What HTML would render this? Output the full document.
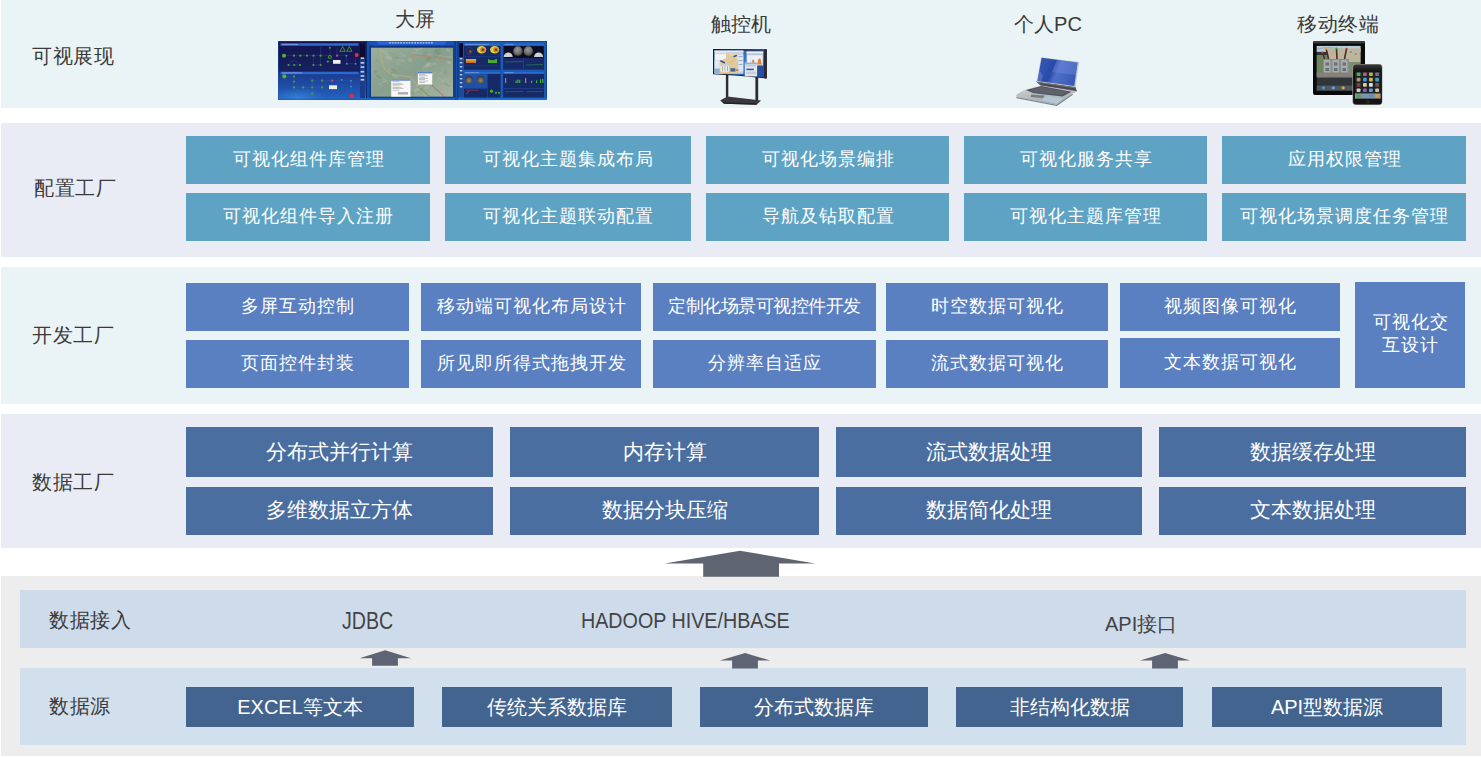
<!DOCTYPE html>
<html><head><meta charset="utf-8">
<style>
*{margin:0;padding:0;box-sizing:border-box}
html,body{width:1481px;height:758px;overflow:hidden;background:#fff;font-family:"Liberation Sans",sans-serif}
.a{position:absolute}
.sec{position:absolute;left:1px;right:0}
.s1{top:0;height:108px;background:#EAF3F5}
.s2{top:123px;height:134px;background:#E9ECF4}
.s3{top:267px;height:137px;background:#EAF3F5}
.s4{top:414px;height:134px;background:#E9ECF4}
.s5{top:576px;height:180px;background:#EDEDED}
.lbl{position:absolute;font-size:20px;color:#3a3a3a;white-space:nowrap;line-height:20px}
.cl{letter-spacing:0.5px}
.b{position:absolute;color:#fff;text-align:center;white-space:nowrap}
.c2{background:#5FA3C4;font-size:18px;letter-spacing:1px;text-indent:1px;height:48px;line-height:46px}
.c3{background:#5A80C1;font-size:18px;letter-spacing:1px;text-indent:1px;height:48px;line-height:46px}
.c4{background:#4A6E9F;font-size:21px;height:49px;line-height:49px}
.c5{background:#42648E;font-size:20px;height:40px;line-height:40px;top:687px}
.dev{position:absolute;font-size:20px;color:#3a3a3a;white-space:nowrap;line-height:20px;text-align:center;width:200px}
</style></head><body>
<div class="sec s1"></div>
<div class="sec s2"></div>
<div class="sec s3"></div>
<div class="sec s4"></div>
<div class="sec s5"></div>

<!-- left labels -->
<div class="lbl cl" style="left:32px;top:46px">可视展现</div>
<div class="lbl cl" style="left:34px;top:178px">配置工厂</div>
<div class="lbl cl" style="left:32px;top:325px">开发工厂</div>
<div class="lbl cl" style="left:32px;top:472px">数据工厂</div>

<!-- device labels -->
<div class="dev" style="left:315px;top:9px">大屏</div>
<div class="dev" style="left:641px;top:14px">触控机</div>
<div class="dev" style="left:948px;top:14px">个人PC</div>
<div class="dev" style="left:1238px;top:14px;letter-spacing:0.6px;text-indent:0.6px">移动终端</div>

<!-- S2 buttons -->
<div class="b c2" style="left:186px;top:136px;width:244px">可视化组件库管理</div>
<div class="b c2" style="left:445px;top:136px;width:246px">可视化主题集成布局</div>
<div class="b c2" style="left:706px;top:136px;width:243px">可视化场景编排</div>
<div class="b c2" style="left:964px;top:136px;width:243px">可视化服务共享</div>
<div class="b c2" style="left:1222px;top:136px;width:244px">应用权限管理</div>
<div class="b c2" style="left:186px;top:193px;width:244px">可视化组件导入注册</div>
<div class="b c2" style="left:445px;top:193px;width:246px">可视化主题联动配置</div>
<div class="b c2" style="left:706px;top:193px;width:243px">导航及钻取配置</div>
<div class="b c2" style="left:964px;top:193px;width:243px">可视化主题库管理</div>
<div class="b c2" style="left:1222px;top:193px;width:244px">可视化场景调度任务管理</div>

<!-- S3 buttons -->
<div class="b c3" style="left:186px;top:283px;width:223px">多屏互动控制</div>
<div class="b c3" style="left:421px;top:283px;width:220px">移动端可视化布局设计</div>
<div class="b c3" style="left:653px;top:283px;width:223px;letter-spacing:-0.5px;text-indent:-0.5px">定制化场景可视控件开发</div>
<div class="b c3" style="left:886px;top:283px;width:222px">时空数据可视化</div>
<div class="b c3" style="left:1120px;top:283px;width:220px">视频图像可视化</div>
<div class="b c3" style="left:186px;top:340px;width:223px">页面控件封装</div>
<div class="b c3" style="left:421px;top:340px;width:220px">所见即所得式拖拽开发</div>
<div class="b c3" style="left:653px;top:340px;width:223px">分辨率自适应</div>
<div class="b c3" style="left:886px;top:340px;width:222px">流式数据可视化</div>
<div class="b c3" style="left:1120px;top:338px;width:220px;height:50px;line-height:48px">文本数据可视化</div>
<div class="b c3" style="left:1355px;top:282px;width:110px;height:106px;line-height:23px;padding-top:29px;white-space:normal">可视化交<br>互设计</div>

<!-- S4 buttons -->
<div class="b c4" style="left:186px;top:427px;width:307px;height:50px;line-height:50px">分布式并行计算</div>
<div class="b c4" style="left:510px;top:427px;width:309px;height:50px;line-height:50px">内存计算</div>
<div class="b c4" style="left:836px;top:427px;width:306px;height:50px;line-height:50px">流式数据处理</div>
<div class="b c4" style="left:1159px;top:427px;width:307px;height:50px;line-height:50px">数据缓存处理</div>
<div class="b c4" style="left:186px;top:487px;width:307px;height:48px;line-height:46px">多维数据立方体</div>
<div class="b c4" style="left:510px;top:487px;width:309px;height:48px;line-height:46px">数据分块压缩</div>
<div class="b c4" style="left:836px;top:487px;width:306px;height:48px;line-height:46px">数据简化处理</div>
<div class="b c4" style="left:1159px;top:487px;width:307px;height:48px;line-height:46px">文本数据处理</div>

<!-- big arrow -->
<svg class="a" style="left:0;top:540px" width="1481" height="40" viewBox="0 540 1481 40">
<path d="M740 550.7 L815.3 563.5 L779 563.5 L779 576.7 L703.2 576.7 L703.2 563.5 L664.6 563.5 Z" fill="#5F6570"/>
</svg>

<!-- S5 -->
<div class="a" style="left:20px;top:590px;width:1446px;height:58px;background:#CEDBEB"></div>
<div class="a" style="left:20px;top:668px;width:1446px;height:77px;background:#D2DFEC"></div>
<div class="lbl cl" style="left:49px;top:610px">数据接入</div>
<div class="lbl cl" style="left:49px;top:695.5px">数据源</div>
<div class="lbl" style="left:342px;top:610px;font-size:21px;color:#444;transform:scale(0.935,1.13);transform-origin:0 0">JDBC</div>
<div class="lbl" style="left:581px;top:610px;color:#444;transform:scale(0.985,1.07);transform-origin:0 0">HADOOP HIVE/HBASE</div>
<div class="lbl" style="left:1105px;top:614px;color:#444">API接口</div>

<svg class="a" style="left:0;top:640px" width="1481" height="40" viewBox="0 640 1481 40">
<g fill="#5E6473">
<path d="M385.2 650.2 L411 658.2 L397.9 658.2 L397.9 665.8 L372.1 665.8 L372.1 658.2 L359.5 658.2 Z"/>
<path d="M745.1 653 L770.3 660.6 L757.9 660.6 L757.9 668.6 L732.1 668.6 L732.1 660.6 L719.9 660.6 Z"/>
<path d="M1165.1 653 L1190.3 660.6 L1177.9 660.6 L1177.9 668.6 L1152.1 668.6 L1152.1 660.6 L1140 660.6 Z"/>
</g>
</svg>

<div class="b c5" style="left:186px;width:228px">EXCEL等文本</div>
<div class="b c5" style="left:442px;width:230px">传统关系数据库</div>
<div class="b c5" style="left:700px;width:228px">分布式数据库</div>
<div class="b c5" style="left:956px;width:227px">非结构化数据</div>
<div class="b c5" style="left:1212px;width:230px">API型数据源</div>

<!-- IMAGES -->
<svg class="a" style="left:0;top:0" width="1481" height="108" viewBox="0 0 1481 108">
<defs>
<linearGradient id="gL" x1="0" y1="0" x2="0" y2="1"><stop offset="0" stop-color="#141450"/><stop offset="0.5" stop-color="#17205E"/><stop offset="0.55" stop-color="#1B3A8E"/><stop offset="1" stop-color="#2464C0"/></linearGradient>
<linearGradient id="gMap" x1="0" y1="0" x2="1" y2="1"><stop offset="0" stop-color="#9AAE9C"/><stop offset="0.5" stop-color="#879F8C"/><stop offset="1" stop-color="#A6B4A0"/></linearGradient>
<radialGradient id="gSph" cx="0.45" cy="0.35" r="0.6"><stop offset="0" stop-color="#9A9A9A"/><stop offset="0.7" stop-color="#6A6A68"/><stop offset="1" stop-color="#3A3A3A"/></radialGradient>
<radialGradient id="gSph2" cx="0.5" cy="0.6" r="0.6"><stop offset="0" stop-color="#9A8A60"/><stop offset="0.7" stop-color="#5A5040"/><stop offset="1" stop-color="#2A2A30"/></radialGradient>
<linearGradient id="gDesk" x1="0" y1="0" x2="1" y2="1"><stop offset="0" stop-color="#1E4A98"/><stop offset="0.5" stop-color="#3C7AC8"/><stop offset="1" stop-color="#1E4A98"/></linearGradient>
<linearGradient id="gLap" x1="0" y1="0" x2="1" y2="0.3"><stop offset="0" stop-color="#3B5ABA"/><stop offset="0.45" stop-color="#2A4AAA"/><stop offset="0.6" stop-color="#5070C8"/><stop offset="1" stop-color="#3A5CB8"/></linearGradient>
<linearGradient id="gBase" x1="0" y1="0" x2="0.3" y2="1"><stop offset="0" stop-color="#D4D6D8"/><stop offset="1" stop-color="#A8ACB0"/></linearGradient>
<linearGradient id="gIpadSky" x1="0" y1="0" x2="0" y2="1"><stop offset="0" stop-color="#A8C0CC"/><stop offset="1" stop-color="#C8CCC0"/></linearGradient>
<linearGradient id="gPhone" x1="0" y1="0" x2="0" y2="1"><stop offset="0" stop-color="#3A3A3A"/><stop offset="0.2" stop-color="#0A0A0A"/><stop offset="1" stop-color="#151515"/></linearGradient>
<radialGradient id="gGlow"><stop offset="0" stop-color="#40A0F0" stop-opacity="0.45"/><stop offset="1" stop-color="#40A0F0" stop-opacity="0"/></radialGradient>
<filter id="bl" x="-5%" y="-5%" width="110%" height="110%"><feGaussianBlur stdDeviation="0.5"/></filter>
<filter id="bl2" x="-5%" y="-5%" width="110%" height="110%"><feGaussianBlur stdDeviation="0.8"/></filter>
<clipPath id="cpL"><rect x="278.5" y="41.5" width="87.5" height="58"/></clipPath>
</defs>
<g>
<rect x="278.0" y="41.0" width="269.0" height="59.0" fill="#1552A8" />
<rect x="278.5" y="41.5" width="87.5" height="58.0" fill="url(#gL)" />
<rect x="280.5" y="43.2" width="78.0" height="2.6" fill="#2A6ACC" />
<rect x="282.0" y="43.9" width="16.0" height="1.1" fill="#9AB8E8" opacity="0.6"/>
<rect x="280.5" y="71.8" width="78.0" height="2.4" fill="#2A6ACC" />
<rect x="282.0" y="72.4" width="20.0" height="1.1" fill="#9AB8E8" opacity="0.6"/>
<rect x="360.0" y="44.0" width="5.0" height="54.0" fill="#1B3C8C" />
<rect x="360.0" y="44.0" width="5.0" height="15.0" fill="#0C0C34" />
<rect x="360.6" y="57.3" width="3.6" height="1.7" fill="#B8C8E4" />
<rect x="360.6" y="62.0" width="3.6" height="1.7" fill="#B8C8E4" />
<rect x="360.6" y="66.2" width="3.6" height="1.7" fill="#B8C8E4" />
<rect x="360.6" y="70.9" width="3.6" height="1.7" fill="#B8C8E4" />
<rect x="360.6" y="75.1" width="3.6" height="1.7" fill="#B8C8E4" />
<rect x="360.6" y="78.9" width="3.6" height="1.7" fill="#B8C8E4" />
<ellipse cx="298" cy="97" rx="26" ry="9" fill="url(#gGlow)" clip-path="url(#cpL)"/>
<line x1="284.0" y1="55.7" x2="328.0" y2="55.7" stroke="#3F68B8" stroke-width="0.5" opacity="0.55"/>
<line x1="288.5" y1="65.0" x2="300.1" y2="65.0" stroke="#3F68B8" stroke-width="0.5" opacity="0.55"/>
<line x1="313.4" y1="65.0" x2="320.6" y2="65.0" stroke="#3F68B8" stroke-width="0.5" opacity="0.55"/>
<line x1="337.1" y1="55.7" x2="346.4" y2="55.7" stroke="#3F68B8" stroke-width="0.5" opacity="0.55"/>
<line x1="346.8" y1="63.8" x2="355.7" y2="63.8" stroke="#3F68B8" stroke-width="0.5" opacity="0.55"/>
<line x1="327.8" y1="61.6" x2="333.0" y2="61.6" stroke="#3F68B8" stroke-width="0.5" opacity="0.55"/>
<line x1="313.4" y1="55.7" x2="313.4" y2="65.0" stroke="#3F68B8" stroke-width="0.5" opacity="0.55"/>
<line x1="320.6" y1="47.0" x2="320.6" y2="65.0" stroke="#3F68B8" stroke-width="0.5" opacity="0.55"/>
<line x1="329.9" y1="47.7" x2="329.9" y2="57.0" stroke="#3F68B8" stroke-width="0.5" opacity="0.55"/>
<line x1="337.1" y1="47.0" x2="337.1" y2="55.7" stroke="#3F68B8" stroke-width="0.5" opacity="0.55"/>
<line x1="346.6" y1="55.7" x2="346.6" y2="63.8" stroke="#3F68B8" stroke-width="0.5" opacity="0.55"/>
<line x1="355.7" y1="54.9" x2="355.7" y2="63.8" stroke="#3F68B8" stroke-width="0.5" opacity="0.55"/>
<line x1="284.3" y1="76.4" x2="294.0" y2="76.4" stroke="#3F68B8" stroke-width="0.5" opacity="0.55"/>
<line x1="294.0" y1="76.4" x2="294.0" y2="87.4" stroke="#3F68B8" stroke-width="0.5" opacity="0.55"/>
<line x1="294.0" y1="87.4" x2="322.1" y2="87.4" stroke="#3F68B8" stroke-width="0.5" opacity="0.55"/>
<line x1="312.2" y1="80.7" x2="351.0" y2="80.7" stroke="#3F68B8" stroke-width="0.5" opacity="0.55"/>
<line x1="312.2" y1="80.7" x2="312.2" y2="93.7" stroke="#3F68B8" stroke-width="0.5" opacity="0.55"/>
<line x1="351.0" y1="80.7" x2="351.0" y2="95.9" stroke="#3F68B8" stroke-width="0.5" opacity="0.55"/>
<path d="M288.5 65 Q294.3 56 300.1 65" fill="none" stroke="#3F68B8" stroke-width="0.5" opacity="0.55"/>
<circle cx="284.0" cy="55.7" r="2.0" fill="#5AB038" />
<circle cx="294.0" cy="55.7" r="1.1" fill="#4E9E32" />
<circle cx="300.3" cy="55.7" r="1.1" fill="#4E9E32" />
<circle cx="306.9" cy="55.7" r="1.1" fill="#4E9E32" />
<circle cx="313.4" cy="55.7" r="1.1" fill="#4E9E32" />
<circle cx="320.6" cy="55.7" r="1.1" fill="#4E9E32" />
<circle cx="288.5" cy="65.0" r="1.1" fill="#4E9E32" />
<circle cx="294.3" cy="65.0" r="1.1" fill="#4E9E32" />
<circle cx="300.1" cy="65.0" r="1.1" fill="#4E9E32" />
<circle cx="313.4" cy="65.0" r="1.1" fill="#4E9E32" />
<circle cx="320.6" cy="65.0" r="1.1" fill="#4E9E32" />
<circle cx="329.9" cy="57.0" r="2.1" fill="#3A9A28" />
<circle cx="329.9" cy="57.0" r="1.1" fill="#1A3A1A" />
<circle cx="329.9" cy="47.7" r="1.0" fill="#4E9E32" />
<circle cx="327.8" cy="61.6" r="1.1" fill="#4E9E32" />
<path d="M342.6 46.5 L345.20000000000005 51.3 L340.0 51.3 Z" fill="none" stroke="#48A030" stroke-width="0.9"/>
<path d="M349.3 46.5 L351.90000000000003 51.3 L346.7 51.3 Z" fill="none" stroke="#48A030" stroke-width="0.9"/>
<circle cx="337.1" cy="55.7" r="1.1" fill="#D040A8" />
<rect x="333.0" y="60.0" width="7.5" height="3.8" fill="#EEEEEE" />
<circle cx="356.7" cy="54.9" r="2.0" fill="#D8304A" />
<circle cx="346.4" cy="55.7" r="0.9" fill="#3A98D8" />
<circle cx="346.8" cy="63.8" r="0.9" fill="#3A98D8" />
<circle cx="355.7" cy="63.8" r="0.9" fill="#3A98D8" />
<circle cx="284.3" cy="76.4" r="2.1" fill="#5AB038" />
<circle cx="294.0" cy="76.4" r="1.1" fill="#4E9E32" />
<circle cx="294.0" cy="81.5" r="1.1" fill="#4E9E32" />
<circle cx="294.0" cy="87.4" r="1.1" fill="#4E9E32" />
<circle cx="303.3" cy="87.4" r="1.1" fill="#4E9E32" />
<circle cx="312.2" cy="80.7" r="1.1" fill="#4E9E32" />
<circle cx="312.2" cy="87.4" r="1.1" fill="#4E9E32" />
<circle cx="312.2" cy="93.7" r="1.1" fill="#4E9E32" />
<circle cx="322.1" cy="80.7" r="1.1" fill="#4E9E32" />
<circle cx="322.1" cy="87.4" r="1.1" fill="#4E9E32" />
<circle cx="332.0" cy="80.7" r="1.1" fill="#D040A8" />
<circle cx="341.7" cy="79.8" r="0.9" fill="#3A98D8" />
<circle cx="351.0" cy="80.7" r="0.9" fill="#3A98D8" />
<circle cx="351.0" cy="86.6" r="0.9" fill="#3A98D8" />
<rect x="329.0" y="85.3" width="8.0" height="3.8" fill="#EEEEEE" />
<circle cx="351.4" cy="95.9" r="2.1" fill="#D8304A" />
<rect x="366.0" y="41.0" width="89.5" height="59.0" fill="#0C2A70" />
<rect x="367.0" y="41.5" width="87.5" height="58.0" fill="#1550A8" />
<rect x="369.5" y="45.6" width="84.0" height="52.4" fill="#0F3480" />
<path d="M368 41.2 L455 41.2 L450 45.6 L373 45.6 Z" fill="#1A50C0" />
<path d="M376 41.2 L447 41.2 L444 44.4 L379 44.4 Z" fill="#2A64D8" />
<rect x="389.0" y="42.1" width="1.8" height="1.4" fill="#C8D8F8" opacity="0.8"/>
<rect x="391.8" y="42.1" width="1.8" height="1.4" fill="#C8D8F8" opacity="0.8"/>
<rect x="394.6" y="42.1" width="1.8" height="1.4" fill="#C8D8F8" opacity="0.8"/>
<rect x="397.4" y="42.1" width="1.8" height="1.4" fill="#C8D8F8" opacity="0.8"/>
<rect x="400.2" y="42.1" width="1.8" height="1.4" fill="#C8D8F8" opacity="0.8"/>
<rect x="403.0" y="42.1" width="1.8" height="1.4" fill="#C8D8F8" opacity="0.8"/>
<rect x="405.8" y="42.1" width="1.8" height="1.4" fill="#C8D8F8" opacity="0.8"/>
<rect x="408.6" y="42.1" width="1.8" height="1.4" fill="#C8D8F8" opacity="0.8"/>
<rect x="411.4" y="42.1" width="1.8" height="1.4" fill="#C8D8F8" opacity="0.8"/>
<rect x="414.2" y="42.1" width="1.8" height="1.4" fill="#C8D8F8" opacity="0.8"/>
<rect x="417.0" y="42.1" width="1.8" height="1.4" fill="#C8D8F8" opacity="0.8"/>
<rect x="419.8" y="42.1" width="1.8" height="1.4" fill="#C8D8F8" opacity="0.8"/>
<rect x="422.6" y="42.1" width="1.8" height="1.4" fill="#C8D8F8" opacity="0.8"/>
<rect x="425.4" y="42.1" width="1.8" height="1.4" fill="#C8D8F8" opacity="0.8"/>
<rect x="428.2" y="42.1" width="1.8" height="1.4" fill="#C8D8F8" opacity="0.8"/>
<rect x="431.0" y="42.1" width="1.8" height="1.4" fill="#C8D8F8" opacity="0.8"/>
<rect x="371.0" y="47.7" width="82.0" height="49.0" fill="url(#gMap)" />
<ellipse cx="391.9" cy="73.6" rx="2.3" ry="1.4" fill="#6E8872" opacity="0.35" transform="rotate(-35 391.9 73.6)"/>
<ellipse cx="420.9" cy="89.9" rx="2.6" ry="1.3" fill="#7A927C" opacity="0.35" transform="rotate(35 420.9 89.9)"/>
<ellipse cx="415.6" cy="74.2" rx="2.4" ry="1.8" fill="#7A927C" opacity="0.35" transform="rotate(-20 415.6 74.2)"/>
<ellipse cx="442.3" cy="72.8" rx="3.6" ry="1.5" fill="#B0BEA8" opacity="0.35" transform="rotate(-20 442.3 72.8)"/>
<ellipse cx="432.2" cy="74.8" rx="2.1" ry="0.5" fill="#BCC6B4" opacity="0.35" transform="rotate(35 432.2 74.8)"/>
<ellipse cx="419.7" cy="90.8" rx="2.4" ry="1.7" fill="#869C88" opacity="0.35" transform="rotate(35 419.7 90.8)"/>
<ellipse cx="432.2" cy="74.4" rx="4.4" ry="0.7" fill="#BCC6B4" opacity="0.35" transform="rotate(-35 432.2 74.4)"/>
<ellipse cx="375.7" cy="71.5" rx="1.9" ry="1.5" fill="#6E8872" opacity="0.35" transform="rotate(20 375.7 71.5)"/>
<ellipse cx="406.9" cy="86.5" rx="3.0" ry="1.3" fill="#869C88" opacity="0.35" transform="rotate(-20 406.9 86.5)"/>
<ellipse cx="445.8" cy="80.2" rx="4.3" ry="1.8" fill="#A2B4A0" opacity="0.35" transform="rotate(-20 445.8 80.2)"/>
<ellipse cx="428.4" cy="63.7" rx="2.9" ry="1.4" fill="#B0BEA8" opacity="0.35" transform="rotate(-20 428.4 63.7)"/>
<ellipse cx="422.3" cy="92.8" rx="1.9" ry="0.7" fill="#869C88" opacity="0.35" transform="rotate(35 422.3 92.8)"/>
<ellipse cx="380.3" cy="84.5" rx="2.4" ry="0.7" fill="#BCC6B4" opacity="0.35" transform="rotate(35 380.3 84.5)"/>
<ellipse cx="432.1" cy="88.4" rx="1.2" ry="1.4" fill="#B0BEA8" opacity="0.35" transform="rotate(35 432.1 88.4)"/>
<ellipse cx="431.1" cy="64.6" rx="4.1" ry="2.0" fill="#A2B4A0" opacity="0.35" transform="rotate(-20 431.1 64.6)"/>
<ellipse cx="450.2" cy="63.0" rx="1.3" ry="1.4" fill="#B0BEA8" opacity="0.35" transform="rotate(-20 450.2 63.0)"/>
<ellipse cx="448.7" cy="62.4" rx="1.9" ry="1.5" fill="#BCC6B4" opacity="0.35" transform="rotate(20 448.7 62.4)"/>
<ellipse cx="403.1" cy="55.0" rx="4.0" ry="1.1" fill="#A2B4A0" opacity="0.35" transform="rotate(35 403.1 55.0)"/>
<ellipse cx="424.2" cy="75.9" rx="3.0" ry="1.4" fill="#A2B4A0" opacity="0.35" transform="rotate(20 424.2 75.9)"/>
<ellipse cx="406.5" cy="81.1" rx="1.8" ry="1.0" fill="#BCC6B4" opacity="0.35" transform="rotate(20 406.5 81.1)"/>
<ellipse cx="416.2" cy="49.6" rx="2.5" ry="1.4" fill="#B0BEA8" opacity="0.35" transform="rotate(35 416.2 49.6)"/>
<ellipse cx="420.2" cy="77.6" rx="1.2" ry="1.4" fill="#869C88" opacity="0.35" transform="rotate(20 420.2 77.6)"/>
<ellipse cx="427.5" cy="65.2" rx="3.5" ry="1.6" fill="#B0BEA8" opacity="0.35" transform="rotate(-35 427.5 65.2)"/>
<ellipse cx="447.8" cy="50.1" rx="2.3" ry="1.4" fill="#BCC6B4" opacity="0.35" transform="rotate(20 447.8 50.1)"/>
<ellipse cx="388.5" cy="57.8" rx="3.7" ry="1.8" fill="#BCC6B4" opacity="0.35" transform="rotate(20 388.5 57.8)"/>
<ellipse cx="436.3" cy="54.4" rx="3.8" ry="2.0" fill="#6E8872" opacity="0.35" transform="rotate(-20 436.3 54.4)"/>
<ellipse cx="399.0" cy="58.6" rx="3.8" ry="0.9" fill="#7A927C" opacity="0.35" transform="rotate(35 399.0 58.6)"/>
<ellipse cx="424.8" cy="54.0" rx="3.1" ry="1.9" fill="#6E8872" opacity="0.35" transform="rotate(-20 424.8 54.0)"/>
<ellipse cx="406.8" cy="87.2" rx="1.6" ry="1.0" fill="#6E8872" opacity="0.35" transform="rotate(-20 406.8 87.2)"/>
<ellipse cx="441.8" cy="68.7" rx="1.8" ry="0.7" fill="#A2B4A0" opacity="0.35" transform="rotate(-20 441.8 68.7)"/>
<ellipse cx="398.6" cy="87.1" rx="3.0" ry="1.8" fill="#BCC6B4" opacity="0.35" transform="rotate(-35 398.6 87.1)"/>
<ellipse cx="435.3" cy="64.2" rx="1.5" ry="0.9" fill="#BCC6B4" opacity="0.35" transform="rotate(35 435.3 64.2)"/>
<ellipse cx="400.5" cy="67.6" rx="2.5" ry="1.1" fill="#869C88" opacity="0.35" transform="rotate(-20 400.5 67.6)"/>
<ellipse cx="390.5" cy="70.6" rx="3.9" ry="1.4" fill="#A2B4A0" opacity="0.35" transform="rotate(35 390.5 70.6)"/>
<ellipse cx="418.1" cy="92.6" rx="3.5" ry="0.5" fill="#869C88" opacity="0.35" transform="rotate(20 418.1 92.6)"/>
<ellipse cx="417.4" cy="89.5" rx="4.0" ry="1.8" fill="#BCC6B4" opacity="0.35" transform="rotate(-35 417.4 89.5)"/>
<ellipse cx="438.4" cy="51.3" rx="4.2" ry="1.5" fill="#7A927C" opacity="0.35" transform="rotate(35 438.4 51.3)"/>
<ellipse cx="419.6" cy="49.0" rx="3.6" ry="0.8" fill="#BCC6B4" opacity="0.35" transform="rotate(-20 419.6 49.0)"/>
<ellipse cx="425.2" cy="73.2" rx="2.4" ry="1.9" fill="#A2B4A0" opacity="0.35" transform="rotate(-35 425.2 73.2)"/>
<ellipse cx="401.6" cy="60.3" rx="4.0" ry="1.2" fill="#B0BEA8" opacity="0.35" transform="rotate(20 401.6 60.3)"/>
<ellipse cx="392.3" cy="53.9" rx="4.1" ry="0.7" fill="#7A927C" opacity="0.35" transform="rotate(20 392.3 53.9)"/>
<ellipse cx="446.8" cy="84.5" rx="3.9" ry="0.5" fill="#6E8872" opacity="0.35" transform="rotate(35 446.8 84.5)"/>
<ellipse cx="376.8" cy="61.2" rx="1.9" ry="1.3" fill="#869C88" opacity="0.35" transform="rotate(-35 376.8 61.2)"/>
<ellipse cx="408.9" cy="83.2" rx="1.0" ry="0.6" fill="#7A927C" opacity="0.35" transform="rotate(-35 408.9 83.2)"/>
<ellipse cx="385.1" cy="52.6" rx="4.4" ry="1.8" fill="#B0BEA8" opacity="0.35" transform="rotate(35 385.1 52.6)"/>
<ellipse cx="397.9" cy="63.3" rx="2.2" ry="1.5" fill="#A2B4A0" opacity="0.35" transform="rotate(20 397.9 63.3)"/>
<ellipse cx="401.3" cy="57.0" rx="2.2" ry="0.7" fill="#A2B4A0" opacity="0.35" transform="rotate(-35 401.3 57.0)"/>
<ellipse cx="428.1" cy="65.6" rx="1.3" ry="0.8" fill="#BCC6B4" opacity="0.35" transform="rotate(35 428.1 65.6)"/>
<ellipse cx="420.5" cy="84.6" rx="2.3" ry="1.7" fill="#A2B4A0" opacity="0.35" transform="rotate(35 420.5 84.6)"/>
<ellipse cx="378.8" cy="76.9" rx="3.7" ry="1.0" fill="#6E8872" opacity="0.35" transform="rotate(35 378.8 76.9)"/>
<ellipse cx="409.8" cy="60.3" rx="2.9" ry="1.5" fill="#B0BEA8" opacity="0.35" transform="rotate(35 409.8 60.3)"/>
<ellipse cx="389.6" cy="54.6" rx="1.1" ry="1.0" fill="#A2B4A0" opacity="0.35" transform="rotate(20 389.6 54.6)"/>
<ellipse cx="384.8" cy="80.4" rx="4.3" ry="1.6" fill="#A2B4A0" opacity="0.35" transform="rotate(35 384.8 80.4)"/>
<ellipse cx="426.0" cy="81.4" rx="3.0" ry="0.7" fill="#A2B4A0" opacity="0.35" transform="rotate(-35 426.0 81.4)"/>
<ellipse cx="410.3" cy="59.6" rx="2.4" ry="1.3" fill="#A2B4A0" opacity="0.35" transform="rotate(-35 410.3 59.6)"/>
<ellipse cx="426.3" cy="65.6" rx="3.9" ry="1.0" fill="#B0BEA8" opacity="0.35" transform="rotate(-35 426.3 65.6)"/>
<ellipse cx="440.8" cy="79.9" rx="3.9" ry="1.9" fill="#A2B4A0" opacity="0.35" transform="rotate(20 440.8 79.9)"/>
<ellipse cx="437.0" cy="50.6" rx="3.7" ry="1.3" fill="#6E8872" opacity="0.35" transform="rotate(-20 437.0 50.6)"/>
<ellipse cx="383.6" cy="82.0" rx="4.3" ry="0.6" fill="#BCC6B4" opacity="0.35" transform="rotate(-20 383.6 82.0)"/>
<ellipse cx="437.2" cy="59.5" rx="1.6" ry="0.9" fill="#A2B4A0" opacity="0.35" transform="rotate(35 437.2 59.5)"/>
<ellipse cx="395.0" cy="76.0" rx="4.3" ry="1.3" fill="#B0BEA8" opacity="0.35" transform="rotate(35 395.0 76.0)"/>
<ellipse cx="412.5" cy="93.1" rx="2.4" ry="1.6" fill="#7A927C" opacity="0.35" transform="rotate(35 412.5 93.1)"/>
<ellipse cx="428.2" cy="83.0" rx="3.4" ry="1.3" fill="#869C88" opacity="0.35" transform="rotate(-20 428.2 83.0)"/>
<ellipse cx="422.7" cy="88.7" rx="1.5" ry="0.6" fill="#6E8872" opacity="0.35" transform="rotate(35 422.7 88.7)"/>
<ellipse cx="445.0" cy="72.6" rx="2.6" ry="1.6" fill="#7A927C" opacity="0.35" transform="rotate(-20 445.0 72.6)"/>
<ellipse cx="394.9" cy="57.6" rx="3.0" ry="1.0" fill="#7A927C" opacity="0.35" transform="rotate(20 394.9 57.6)"/>
<ellipse cx="426.5" cy="87.6" rx="3.1" ry="1.4" fill="#BCC6B4" opacity="0.35" transform="rotate(-20 426.5 87.6)"/>
<ellipse cx="398.8" cy="60.6" rx="3.8" ry="0.8" fill="#A2B4A0" opacity="0.35" transform="rotate(20 398.8 60.6)"/>
<ellipse cx="393.7" cy="70.5" rx="4.0" ry="1.1" fill="#6E8872" opacity="0.35" transform="rotate(35 393.7 70.5)"/>
<ellipse cx="428.7" cy="58.8" rx="3.0" ry="1.9" fill="#6E8872" opacity="0.35" transform="rotate(-35 428.7 58.8)"/>
<path d="M380 48 C381 61 383 70 390 73.5 S406 75.5 410.7 77 L425.9 96.7" fill="none" stroke="#C8B070" stroke-width="0.9" opacity="0.9"/>
<path d="M385 48 C385 59 388 69 396 72" fill="none" stroke="#B8A080" stroke-width="0.6" opacity="0.6"/>
<path d="M411.5 54.5 L452.5 60" fill="none" stroke="#C0845A" stroke-width="1.1" opacity="0.9"/>
<path d="M411.5 52.5 L452.5 57" fill="none" stroke="#A8B8C8" stroke-width="0.6" opacity="0.6"/>
<path d="M431.8 85.3 L444.5 96.7" fill="none" stroke="#C04848" stroke-width="1.0" stroke-dasharray="1.5 0.8"/>
<path d="M418 87 L430 96.7" fill="none" stroke="#5A9A5A" stroke-width="0.8"/>
<rect x="391.2" y="79.4" width="19.3" height="17.3" fill="#F8F8F8" />
<rect x="391.2" y="79.4" width="19.3" height="1.2" fill="#3D6CC8" />
<rect x="392.5" y="81.5" width="7.0" height="0.5" fill="#909090" />
<rect x="392.5" y="82.9" width="9.0" height="0.5" fill="#909090" />
<rect x="392.5" y="84.3" width="11.0" height="0.5" fill="#909090" />
<rect x="392.5" y="85.7" width="7.0" height="0.5" fill="#909090" />
<rect x="392.5" y="87.1" width="9.0" height="0.5" fill="#909090" />
<rect x="392.5" y="88.5" width="11.0" height="0.5" fill="#909090" />
<rect x="392.5" y="89.9" width="7.0" height="0.5" fill="#909090" />
<rect x="398.0" y="92.0" width="10.0" height="2.6" fill="#B0B0B0" />
<rect x="417.9" y="72.2" width="14.3" height="12.3" fill="#F8F8F8" />
<rect x="417.9" y="72.2" width="14.3" height="1.2" fill="#3D6CC8" />
<rect x="419.0" y="74.3" width="6.0" height="0.5" fill="#909090" />
<rect x="419.0" y="75.6" width="9.0" height="0.5" fill="#909090" />
<rect x="419.0" y="76.9" width="6.0" height="0.5" fill="#909090" />
<rect x="419.0" y="78.2" width="9.0" height="0.5" fill="#909090" />
<rect x="419.0" y="79.5" width="6.0" height="0.5" fill="#909090" />
<rect x="419.0" y="80.8" width="9.0" height="0.5" fill="#909090" />
<rect x="419.0" y="82.1" width="6.0" height="0.5" fill="#909090" />
<rect x="366.0" y="97.8" width="89.5" height="2.2" fill="#1B62C8" />
<rect x="457.5" y="41.0" width="89.5" height="59.0" fill="#0C2A70" />
<rect x="458.5" y="41.5" width="88.0" height="58.0" fill="#1A5CB8" />
<rect x="459.2" y="43.0" width="3.8" height="54.0" fill="#1B4A9C" />
<rect x="459.2" y="43.0" width="3.8" height="14.0" fill="#0A0A30" />
<rect x="459.8" y="58.0" width="2.6" height="1.4" fill="#B8C8E4" />
<rect x="459.8" y="62.0" width="2.6" height="1.4" fill="#B8C8E4" />
<rect x="459.8" y="66.0" width="2.6" height="1.4" fill="#B8C8E4" />
<rect x="459.8" y="70.0" width="2.6" height="1.4" fill="#B8C8E4" />
<rect x="459.8" y="74.0" width="2.6" height="1.4" fill="#B8C8E4" />
<rect x="459.8" y="78.0" width="2.6" height="1.4" fill="#B8C8E4" />
<rect x="459.8" y="82.0" width="2.6" height="1.4" fill="#B8C8E4" />
<rect x="459.8" y="86.0" width="2.6" height="1.4" fill="#B8C8E4" />
<rect x="463.8" y="43.2" width="36.8" height="26.5" fill="#162A68" />
<rect x="503.1" y="43.2" width="41.0" height="26.5" fill="#162A68" />
<rect x="463.8" y="71.4" width="36.8" height="26.3" fill="#162A68" />
<rect x="503.1" y="71.4" width="41.0" height="26.3" fill="#162A68" />
<rect x="463.8" y="43.2" width="36.8" height="2.6" fill="#2A6ACC" />
<rect x="503.1" y="43.2" width="41.0" height="2.6" fill="#2A6ACC" />
<rect x="463.8" y="71.4" width="36.8" height="2.5" fill="#2A6ACC" />
<rect x="503.1" y="71.4" width="41.0" height="2.5" fill="#2A6ACC" />
<rect x="465.0" y="43.9" width="24.0" height="1.1" fill="#9AB8E8" opacity="0.5"/>
<rect x="504.5" y="43.9" width="9.0" height="1.1" fill="#9AB8E8" opacity="0.5"/>
<rect x="465.0" y="72.1" width="14.0" height="1.1" fill="#9AB8E8" opacity="0.5"/>
<rect x="504.5" y="72.1" width="9.0" height="1.1" fill="#9AB8E8" opacity="0.5"/>
<circle cx="469.3" cy="50.7" r="3.4" fill="none" stroke="#3A3A68" stroke-width="0.7"/>
<circle cx="470.3" cy="51.5" r="1.5" fill="#A04A20" />
<ellipse cx="481.6" cy="49.8" rx="4.6" ry="3.8" fill="#E0D040"/>
<ellipse cx="482.9" cy="49.8" rx="2.8" ry="2.6" fill="#E07830"/>
<circle cx="482.9" cy="49.8" r="1.2" fill="#2A5A30" />
<ellipse cx="494.7" cy="49.8" rx="4.6" ry="3.8" fill="#E0D040"/>
<ellipse cx="496.0" cy="49.8" rx="2.8" ry="2.6" fill="#E07830"/>
<circle cx="496.0" cy="49.8" r="1.2" fill="#2A5A30" />
<rect x="465.9" y="59.1" width="10.2" height="3.8" fill="#D87A2A" />
<rect x="465.9" y="59.1" width="10.2" height="1.5" fill="#E0B040" />
<path d="M488 59 Q492.5 61.5 497 58.7 L497 62.9 L488 62.9 Z" fill="#44B034" />
<rect x="464.5" y="56.5" width="35.0" height="0.4" fill="#2A4AA0" />
<rect x="464.5" y="65.5" width="35.0" height="0.4" fill="#2A4AA0" />
<rect x="504.0" y="46.2" width="39.5" height="11.8" fill="#0C0C26" />
<ellipse cx="517.9" cy="51.3" rx="4.7" ry="5" fill="url(#gSph)"/>
<ellipse cx="528.4" cy="51.3" rx="4.7" ry="5" fill="url(#gSph)"/>
<path d="M503.7 57 A4.5 4.5 0 0 1 512.7 57 Z" fill="#D0D0D0" />
<path d="M509.2 57 A3.5 3.5 0 0 1 512.7 57 Z" fill="#D86A40"  opacity="0.5"/>
<path d="M534.1 57 A4.5 4.5 0 0 1 543.1 57 Z" fill="#D0D0D0" />
<path d="M539.6 57 A3.5 3.5 0 0 1 543.1 57 Z" fill="#D86A40"  opacity="0.5"/>
<path d="M505 62 L523 61.5" fill="none" stroke="#3A9A40" stroke-width="0.5"/>
<path d="M526 65 L543 64.5" fill="none" stroke="#3A9A40" stroke-width="0.5"/>
<rect x="523.2" y="58.0" width="0.5" height="11.0" fill="#2A4AA0" />
<rect x="463.8" y="74.0" width="23.2" height="14.6" fill="#1E50A8" />
<circle cx="468.9" cy="79.8" r="3.8" fill="url(#gSph2)" />
<circle cx="480.7" cy="79.8" r="3.8" fill="url(#gSph2)" />
<rect x="466.0" y="89.8" width="13.0" height="0.6" fill="#D03030" />
<path d="M466.5 94 L469 91" fill="none" stroke="#D03030" stroke-width="1"/>
<rect x="487.5" y="74.0" width="0.5" height="24.0" fill="#2A4AA0" />
<circle cx="491.5" cy="91.2" r="1.6" fill="#44B034" />
<circle cx="496.0" cy="92.8" r="1.1" fill="#44B034" />
<circle cx="499.0" cy="92.8" r="1.1" fill="#44B034" />
<rect x="505.0" y="78.0" width="1.2" height="5.0" fill="#D0783A" />
<rect x="515.5" y="80.5" width="1.2" height="2.5" fill="#44B034" />
<rect x="517.3" y="79.5" width="1.2" height="3.5" fill="#44B034" />
<rect x="519.1" y="79.8" width="1.2" height="3.2" fill="#44B034" />
<rect x="525.0" y="78.0" width="1.2" height="5.0" fill="#D0783A" />
<rect x="531.0" y="80.7" width="1.2" height="2.3" fill="#44B034" />
<rect x="536.0" y="80.4" width="1.2" height="2.6" fill="#44B034" />
<rect x="540.0" y="79.4" width="1.2" height="3.6" fill="#44B034" />
<rect x="542.2" y="79.0" width="1.2" height="4.0" fill="#44B034" />
<rect x="504.0" y="88.5" width="40.0" height="0.5" fill="#2A4AA0" />
<path d="M505 91.8 L523 91.5" fill="none" stroke="#3A9A40" stroke-width="0.4"/>
<path d="M526 91.8 L543 91.5" fill="none" stroke="#9A6A40" stroke-width="0.4"/>
<rect x="457.5" y="97.8" width="89.5" height="2.2" fill="#1B6AD0" />
</g>

<g>
<!-- stand -->
<rect x="725.9" y="74" width="2.4" height="25.5" fill="#2E2E30"/>
<rect x="755.4" y="77" width="2.8" height="23.5" fill="#2E2E30"/>
<path d="M720.3 100.3 L727.5 96.4 L761.2 100.4 L756.5 104.8 L724 103.8 Z" fill="#3A3A3C"/>
<path d="M720.3 100.3 L724 103.8 L756.5 104.8 L756.8 103.2 L724.5 102.2 Z" fill="#242426"/>
<!-- frame -->
<path d="M713 49 L766.8 49.3 L766.8 78.6 Q740 75.5 713 74.3 Z" fill="#1C1C22"/>
<path d="M764.2 49.6 L766.8 49.3 L766.8 78.6 L764.2 78.2 Z" fill="#2A2A30"/>
<path d="M714.1 50.4 L764.1 50.6 L764.1 77.6 Q740 74.8 714.1 73.6 Z" fill="url(#gDesk)"/>
<!-- left window -->
<rect x="714.4" y="50.6" width="29" height="23.2" fill="#C4D2E4"/>
<rect x="714.4" y="50.6" width="29" height="1.5" fill="#E8ECF2"/>
<rect x="719.6" y="53.6" width="18.4" height="19.6" fill="#E2CA98"/>
<path d="M728 53.6 L738 53.6 L738 60 Z" fill="#EAD6A8"/>
<rect x="715" y="52.4" width="11" height="7.6" fill="#F0F2F4"/>
<rect x="715.5" y="53" width="10" height="1" fill="#C8D4E4"/>
<rect x="714.6" y="60.4" width="5" height="8.2" fill="#E4E8EE"/>
<rect x="714.6" y="68.6" width="5" height="4.6" fill="#8AB0D8"/>
<rect x="738.2" y="54.8" width="5" height="16.5" fill="#E0E6EE"/>
<rect x="738.6" y="56" width="4" height="0.6" fill="#6A8AC0"/><rect x="738.6" y="60" width="4" height="0.6" fill="#6A8AC0"/><rect x="738.6" y="64" width="4" height="0.6" fill="#6A8AC0"/>
<path d="M721 61.2 L737 55" stroke="#D8C8A8" stroke-width="1.6"/>
<path d="M720.4 60.6 L724.8 63" stroke="#2A4A98" stroke-width="1.5"/>
<path d="M733.6 56.8 L736.8 55.4" stroke="#2A4A98" stroke-width="1.5"/>
<path d="M727 66 L735 59" stroke="#C8B080" stroke-width="0.5"/>
<rect x="720.4" y="64.6" width="8.4" height="7" fill="#EEF0F2"/>
<rect x="720.4" y="64.6" width="8.4" height="1" fill="#A8C0E0"/>
<rect x="722" y="66.2" width="0.7" height="4.6" fill="#8A8A8A"/><rect x="724.6" y="66.2" width="0.7" height="4.6" fill="#8A8A8A"/><rect x="727" y="66.2" width="0.7" height="4.6" fill="#8A8A8A"/>
<rect x="730.4" y="68.2" width="5" height="3.4" fill="#3E6A98"/>
<rect x="736.2" y="69.4" width="1.2" height="1.5" fill="#D04040"/><rect x="737.4" y="69.4" width="1.2" height="1.5" fill="#50A050"/>
<!-- right windows -->
<rect x="746.6" y="51.6" width="16.4" height="13.8" fill="#D4DCE8"/>
<rect x="746.6" y="51.6" width="16.4" height="1.4" fill="#E8EEF4"/>
<rect x="747.2" y="53.8" width="15.4" height="1" fill="#A8BCD8"/>
<rect x="747.6" y="55.4" width="2.6" height="9" fill="#F4F4F4"/>
<rect x="751" y="55.4" width="11" height="9.2" fill="#F0F0F0"/>
<path d="M751.4 64.6 L752.4 60 L753.8 59.6 L755 64.6 Z" fill="#E0823A"/>
<path d="M757 64.6 L758.6 58.8 L760.4 58.4 L761.8 64.6 Z" fill="#E0823A"/>
<rect x="744.8" y="62.6" width="12.4" height="13.8" fill="#E4E8EE"/>
<rect x="744.8" y="62.6" width="12.4" height="1.8" fill="#9AB0D0"/>
<rect x="746" y="65.6" width="10" height="0.6" fill="#90A0B8"/>
<rect x="746.4" y="68.6" width="7.4" height="1.6" fill="#3A5CB0"/>
<rect x="746" y="71.6" width="10" height="2.6" fill="#C8D0DC"/>
<rect x="757.4" y="66" width="6.6" height="11" fill="#2A4E9E"/>
</g>

<g>
<path d="M1016.1 94.8 L1024.2 90 L1040.4 85.6 L1077 91.5 L1072.6 93.4 L1056.3 104.8 L1016.4 97 Z" fill="url(#gBase)"/>
<path d="M1016.4 97 L1056.3 104.8 L1072.6 93.4 L1072.8 94.8 L1056.8 106 L1016.6 98.3 Z" fill="#7E8288"/>
<path d="M1026 90 L1041.4 86 L1071.4 91.8 L1062.6 96.6 L1033.6 93.2 Z" fill="#50545E"/>
<path d="M1030 90.2 L1041.6 87 L1068 92 L1062 95.2 L1034 92.6 Z" fill="#5E626C"/>
<path d="M1031.2 94.6 L1044.9 95.4 L1043 98.2 L1030.5 97 Z" fill="#7A7E84"/>
<path d="M1044.9 96.3 L1063.7 98.2 L1057 103.7 L1041.9 100.4 Z" fill="#B0C8D8"/>
<path d="M1035.6 81.2 L1075.5 86.7 L1077 91.5 L1040.4 85.6 Z" fill="#6A6E74"/>
<path d="M1038 83 L1075.6 88.4 L1076.4 90.4 L1042 85.2 Z" fill="#44484E"/>
<path d="M1041.2 57.2 L1079.2 62 L1075.5 86.7 L1036.7 81.2 Z" fill="#C4C8CC"/>
<path d="M1041.6 57.8 L1077.6 62.4 L1074.3 86 L1037.4 80.9 Z" fill="url(#gLap)"/>
<path d="M1057 59.8 L1077.6 62.4 L1075.8 75 L1052 72 Z" fill="#8098E0" opacity="0.3"/>
<path d="M1039.5 70 L1043 76 L1041 81.2 L1037.6 80.8 Z" fill="#8AA0E0" opacity="0.35"/>
</g>

<g>
<rect x="1313" y="41" width="52" height="54" rx="2" fill="#0A0A0A"/>
<rect x="1313" y="41" width="52" height="2.5" rx="1.2" fill="#3A3A3A"/>
<rect x="1316.7" y="45.9" width="43.9" height="44.7" fill="#30353A"/>
<rect x="1316.7" y="45.9" width="43.9" height="6" fill="#B4CCDA"/>
<path d="M1317 49 Q1330 46 1345 50" stroke="#7A8A90" stroke-width="0.5" fill="none"/>
<rect x="1328" y="48.5" width="32.6" height="13.5" fill="#BDB59E"/>
<rect x="1350" y="51" width="1.5" height="2" fill="#8A8A80"/><rect x="1355" y="53" width="1.5" height="2" fill="#8A8A80"/>
<rect x="1316.7" y="55" width="11.3" height="21" fill="#6E8660"/>
<rect x="1340" y="62" width="20.6" height="12" fill="#76906A"/>
<rect x="1323" y="59" width="26" height="16" fill="#878D8E"/>
<rect x="1324" y="60" width="6.5" height="13.5" fill="#A6ACAE"/><rect x="1332.5" y="60" width="6.5" height="13.5" fill="#A6ACAE"/><rect x="1341" y="60" width="6.5" height="13.5" fill="#A6ACAE"/>
<rect x="1325.5" y="62.5" width="3.5" height="3" fill="#6A7072"/><rect x="1334" y="62.5" width="3.5" height="3" fill="#6A7072"/><rect x="1342.5" y="62.5" width="3.5" height="3" fill="#6A7072"/>
<rect x="1325.5" y="68" width="3.5" height="3" fill="#6A7072"/><rect x="1334" y="68" width="3.5" height="3" fill="#6A7072"/><rect x="1342.5" y="68" width="3.5" height="3" fill="#6A7072"/>
<path d="M1322.7 53 L1324.6 59" stroke="#4A2E28" stroke-width="1.5"/>
<path d="M1326.2 49 L1328.6 59" stroke="#4A2E28" stroke-width="1.6"/>
<path d="M1336.5 48.8 L1337 59" stroke="#4A2E28" stroke-width="1.6"/>
<path d="M1346.5 49 L1344.5 59" stroke="#4A2E28" stroke-width="1.6"/>
<circle cx="1322.6" cy="52.6" r="1" fill="#C83030"/>
<circle cx="1326.2" cy="48.8" r="1" fill="#E0A030"/>
<circle cx="1336.5" cy="48.6" r="1" fill="#30B030"/>
<circle cx="1346.6" cy="48.8" r="1" fill="#C83030"/>
<circle cx="1332" cy="52" r="0.7" fill="#D8A040"/>
<rect x="1316.7" y="72.5" width="43.9" height="5" fill="#86807A"/>
<rect x="1316.7" y="85.6" width="43.9" height="5" fill="#50585C"/>
<circle cx="1323.4" cy="87.8" r="1.6" fill="#3AA0E0"/>
<circle cx="1333.3" cy="87.8" r="1.6" fill="#58A8E0"/>
<circle cx="1343.2" cy="87.8" r="1.6" fill="#D8A840"/>
<rect x="1352.4" y="64" width="30" height="41" rx="3.4" fill="#9C9C9C"/>
<rect x="1353.1" y="64.6" width="28.8" height="39.8" rx="3" fill="url(#gPhone)"/>
<rect x="1354.9" y="71.7" width="25.8" height="26.9" fill="#202428"/>
<rect x="1356.7" y="72.5" width="3.8" height="3.6" rx="0.8" fill="#50B050"/>
<rect x="1363.0" y="72.5" width="3.8" height="3.6" rx="0.8" fill="#B06068"/>
<rect x="1369.0" y="72.5" width="3.8" height="3.6" rx="0.8" fill="#B8B050"/>
<rect x="1375.2" y="72.5" width="3.8" height="3.6" rx="0.8" fill="#707478"/>
<rect x="1356.7" y="77.8" width="3.8" height="3.6" rx="0.8" fill="#A89878"/>
<rect x="1363.0" y="77.8" width="3.8" height="3.6" rx="0.8" fill="#4A98D0"/>
<rect x="1369.0" y="77.8" width="3.8" height="3.6" rx="0.8" fill="#D0B850"/>
<rect x="1375.2" y="77.8" width="3.8" height="3.6" rx="0.8" fill="#4A98C8"/>
<rect x="1356.7" y="83.1" width="3.8" height="3.6" rx="0.8" fill="#983838"/>
<rect x="1363.0" y="83.1" width="3.8" height="3.6" rx="0.8" fill="#D8D098"/>
<rect x="1369.0" y="83.1" width="3.8" height="3.6" rx="0.8" fill="#E0E0E0"/>
<rect x="1375.2" y="83.1" width="3.8" height="3.6" rx="0.8" fill="#705848"/>
<rect x="1356.7" y="88.4" width="3.8" height="3.6" rx="0.8" fill="#D0D0D0"/>
<rect x="1363.0" y="88.4" width="3.8" height="3.6" rx="0.8" fill="#9858B0"/>
<rect x="1369.0" y="88.4" width="3.8" height="3.6" rx="0.8" fill="#58A0D8"/>
<rect x="1375.2" y="88.4" width="3.8" height="3.6" rx="0.8" fill="#D8C4A8"/>
<rect x="1354.9" y="93.4" width="25.8" height="5.2" fill="#8A9094"/>
<rect x="1356.7" y="94.2" width="3.8" height="3.6" rx="0.8" fill="#48A848"/>
<rect x="1363.0" y="94.2" width="3.8" height="3.6" rx="0.8" fill="#58A0D8"/>
<rect x="1369.0" y="94.2" width="3.8" height="3.6" rx="0.8" fill="#4A98D0"/>
<rect x="1375.2" y="94.2" width="3.8" height="3.6" rx="0.8" fill="#D89848"/>
<circle cx="1367.6" cy="101.8" r="1.3" fill="#181818" stroke="#505050" stroke-width="0.4"/>
</g>
</svg>
</body></html>
